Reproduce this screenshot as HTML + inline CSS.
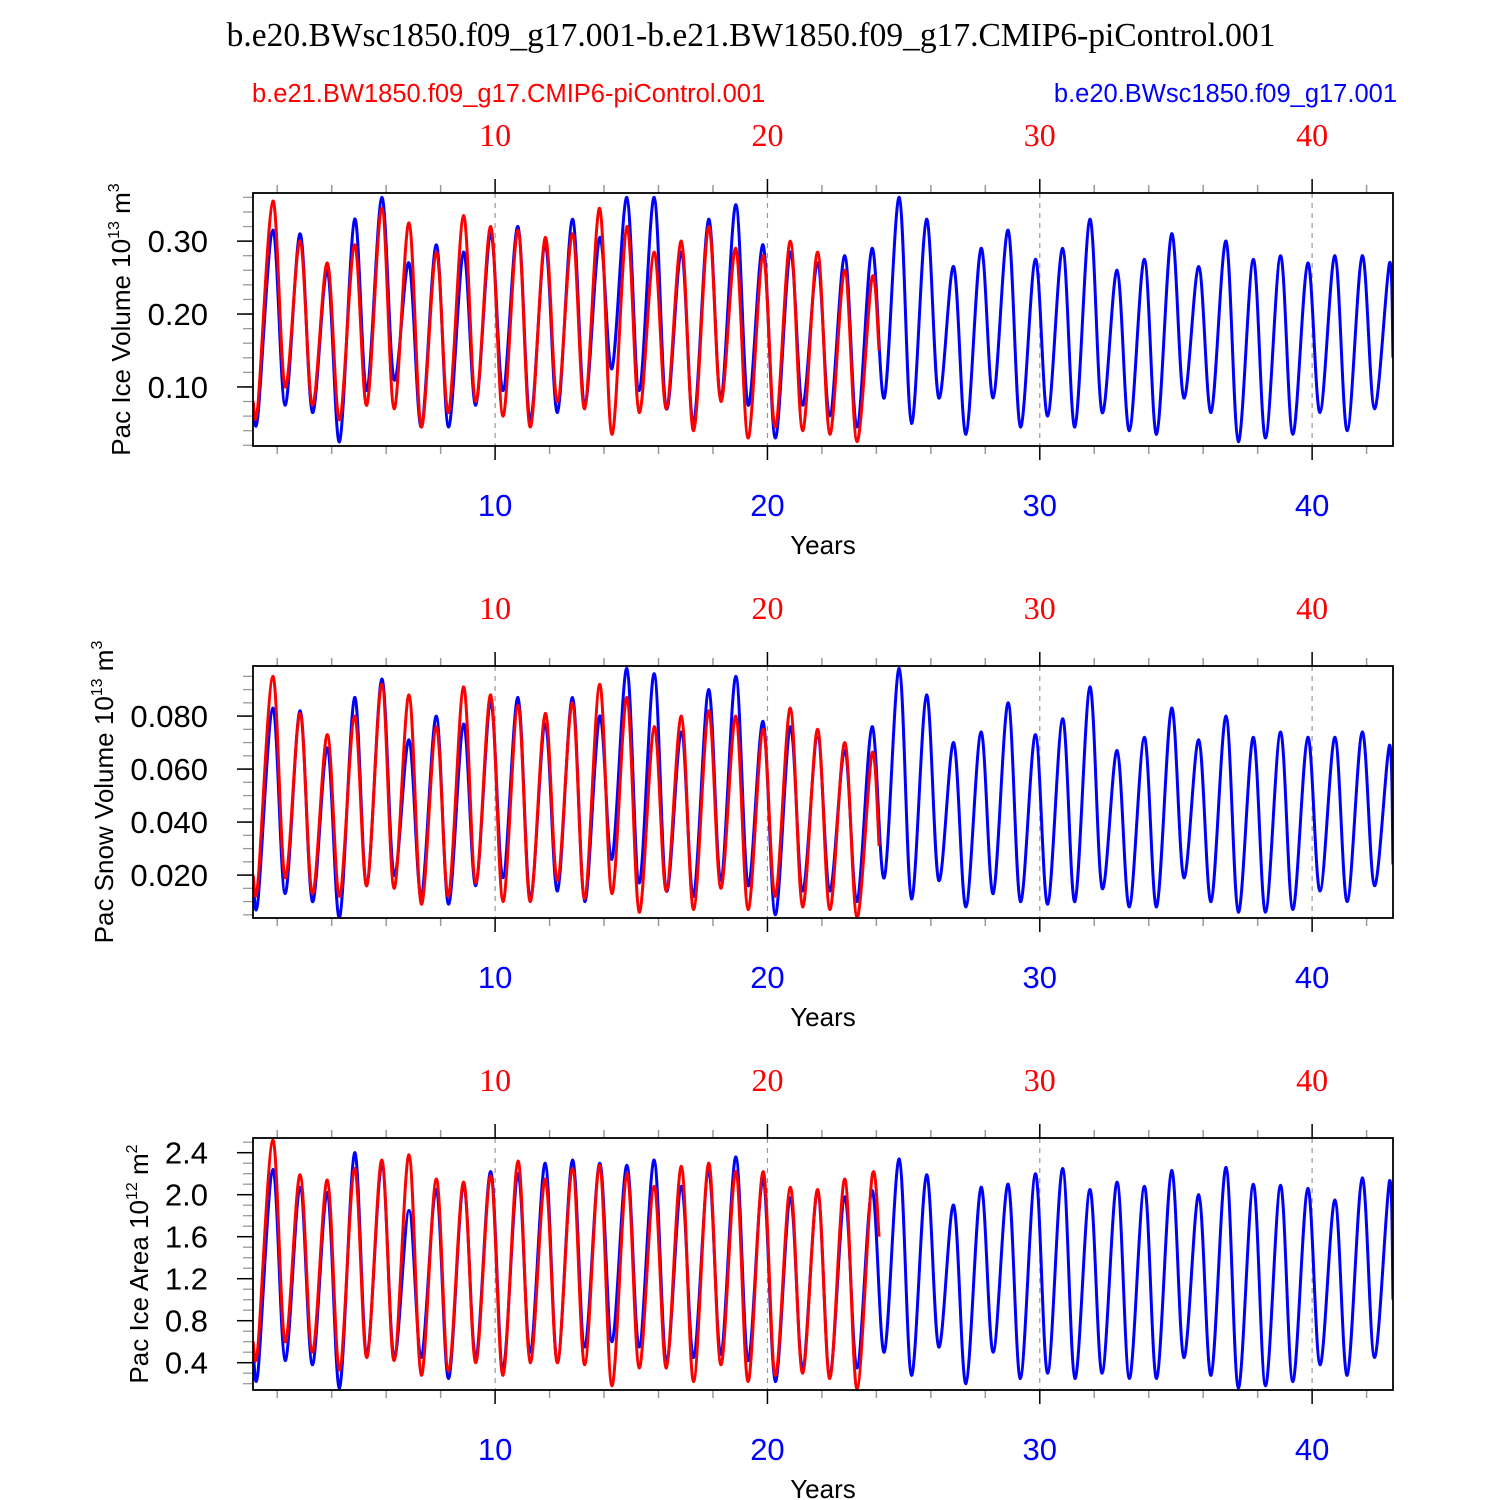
<!DOCTYPE html>
<html><head><meta charset="utf-8"><style>
html,body{margin:0;padding:0;background:#fff}
svg{display:block}
</style></head><body>
<svg id="chart" width="1500" height="1500" xmlns="http://www.w3.org/2000/svg"></svg>
<script>
// ---- data ----
const tickYears = [10, 20, 30, 40];
const redLegend = "b.e21.BW1850.f09_g17.CMIP6-piControl.001";
const blueLegend = "b.e20.BWsc1850.f09_g17.001";

const iceBluePeak = [0.315,0.31,0.26,0.33,0.36,0.27,0.295,0.285,0.31,0.32,0.295,0.33,0.305,0.36,0.36,0.285,0.33,0.35,0.295,0.285,0.27,0.28,0.29,0.36,0.33,0.265,0.29,0.315,0.275,0.29,0.33,0.26,0.275,0.31,0.265,0.30,0.275,0.28,0.27,0.28,0.28,0.27];
const iceBlueTrough = [0.06,0.075,0.065,0.025,0.095,0.11,0.045,0.045,0.075,0.095,0.055,0.065,0.075,0.125,0.095,0.07,0.05,0.085,0.075,0.03,0.075,0.06,0.045,0.085,0.05,0.085,0.035,0.085,0.045,0.06,0.045,0.065,0.04,0.035,0.085,0.065,0.025,0.03,0.035,0.065,0.04,0.07];
const iceRedPeak = [0.355,0.30,0.27,0.295,0.345,0.325,0.285,0.335,0.32,0.315,0.305,0.31,0.345,0.32,0.285,0.30,0.32,0.29,0.28,0.30,0.285,0.26,0.25];
const iceRedTrough = [0.075,0.10,0.075,0.055,0.075,0.07,0.045,0.065,0.08,0.06,0.045,0.08,0.07,0.035,0.065,0.07,0.04,0.08,0.03,0.045,0.04,0.035,0.025];

const snowBluePeak = [0.083,0.082,0.068,0.087,0.094,0.071,0.080,0.077,0.085,0.087,0.077,0.087,0.080,0.098,0.096,0.074,0.090,0.095,0.078,0.076,0.072,0.067,0.076,0.098,0.088,0.070,0.074,0.085,0.073,0.079,0.091,0.067,0.072,0.083,0.071,0.080,0.072,0.074,0.072,0.072,0.074,0.069];
const snowBlueTrough = [0.010,0.013,0.010,0.004,0.016,0.020,0.012,0.009,0.016,0.019,0.011,0.014,0.010,0.026,0.017,0.014,0.012,0.018,0.016,0.005,0.014,0.014,0.010,0.019,0.011,0.018,0.008,0.013,0.010,0.009,0.010,0.015,0.008,0.008,0.019,0.010,0.006,0.006,0.007,0.014,0.010,0.016];
const snowRedPeak = [0.095,0.081,0.073,0.080,0.092,0.088,0.076,0.091,0.088,0.084,0.081,0.085,0.092,0.087,0.076,0.080,0.082,0.080,0.075,0.083,0.075,0.070,0.066];
const snowRedTrough = [0.017,0.019,0.013,0.012,0.016,0.015,0.009,0.012,0.017,0.010,0.010,0.018,0.011,0.013,0.006,0.014,0.007,0.015,0.007,0.012,0.008,0.007,0.004];

const areaBluePeak = [2.24,2.07,2.02,2.40,2.28,1.85,2.05,2.10,2.22,2.20,2.30,2.33,2.30,2.28,2.33,2.08,2.22,2.36,2.15,1.97,2.03,1.98,2.04,2.34,2.19,1.90,2.07,2.10,2.20,2.25,2.05,2.12,2.08,2.23,2.00,2.26,2.10,2.09,2.06,1.95,2.16,2.13];
const areaBlueTrough = [0.30,0.42,0.38,0.16,0.48,0.45,0.45,0.25,0.45,0.35,0.50,0.40,0.55,0.60,0.55,0.40,0.45,0.48,0.42,0.22,0.35,0.28,0.35,0.50,0.28,0.55,0.20,0.50,0.25,0.30,0.25,0.30,0.25,0.25,0.45,0.28,0.16,0.18,0.22,0.38,0.28,0.45];
const areaRedPeak = [2.52,2.19,2.14,2.25,2.33,2.38,2.15,2.12,2.18,2.32,2.15,2.25,2.28,2.20,2.08,2.27,2.30,2.22,2.22,2.07,2.05,2.15,2.17];
const areaRedTrough = [0.55,0.60,0.50,0.33,0.45,0.42,0.28,0.32,0.40,0.28,0.40,0.40,0.38,0.18,0.35,0.35,0.22,0.38,0.22,0.28,0.30,0.25,0.15];

const startVals = {ice:[0.08,0.08], snow:[0.020,0.020], area:[0.6,0.6]};
const endVals = {ice:[0.14,0.15], snow:[0.024,0.031], area:[1.0,1.6]};

const ns = "http://www.w3.org/2000/svg";
const svg = document.getElementById('chart');
function el(tag, attrs, parent){const e=document.createElementNS(ns,tag);for(const k in attrs)e.setAttribute(k,attrs[k]);(parent||svg).appendChild(e);return e;}

const X0=253, X1=1393, YR0=1.11, YR1=42.97;
function xs(t){return X0+(t-YR0)/(YR1-YR0)*(X1-X0);}

let t=el('text',{x:751,y:46,'text-anchor':'middle','font-family':'Liberation Serif, serif','font-size':33.5,fill:'#000'});
t.textContent="b.e20.BWsc1850.f09_g17.001-b.e21.BW1850.f09_g17.CMIP6-piControl.001";

t=el('text',{x:252,y:102,'font-family':'Liberation Sans, sans-serif','font-size':25.5,fill:'#f00'});
t.textContent=redLegend;

t=el('text',{x:1397,y:102,'text-anchor':'end','font-family':'Liberation Sans, sans-serif','font-size':25.5,fill:'#00f'});
t.textContent=blueLegend;


function smoothPath(pts){
  let d='M'+pts[0][0].toFixed(1)+','+pts[0][1].toFixed(1);
  for(let i=0;i<pts.length-1;i++){
    const p0=pts[Math.max(0,i-1)],p1=pts[i],p2=pts[i+1],p3=pts[Math.min(pts.length-1,i+2)];
    const c1x=p1[0]+(p2[0]-p0[0])/6,c1y=p1[1]+(p2[1]-p0[1])/6;
    const c2x=p2[0]-(p3[0]-p1[0])/6,c2y=p2[1]-(p3[1]-p1[1])/6;
    d+=' C'+c1x.toFixed(1)+','+c1y.toFixed(1)+' '+c2x.toFixed(1)+','+c2y.toFixed(1)+' '+p2[0].toFixed(1)+','+p2[1].toFixed(1);
  }
  return d;
}

function panel(cfg){
  const g=el('g',{});
  
  
  const top=cfg.top,bot=cfg.bot;
  const ys=v=>bot-(v-cfg.ymin)/(cfg.ymax-cfg.ymin)*(bot-top);
  tickYears.forEach(yr=>{const l=el('line',{x1:xs(yr),x2:xs(yr),y1:top,y2:bot,stroke:'#999','stroke-width':1.2,'stroke-dasharray':'5,5'},g);
    });
  for(let yr=2;yr<=42;yr+=2){
    const major=yr%10===0;
    el('line',{x1:xs(yr),x2:xs(yr),y1:top,y2:top-(major?14:8),stroke:major?'#000':'#999','stroke-width':1.5},g);
    el('line',{x1:xs(yr),x2:xs(yr),y1:bot,y2:bot+(major?14:8),stroke:major?'#000':'#999','stroke-width':1.5},g);
  }
  for(let v=cfg.minorStart;v<=cfg.ymax+1e-9;v+=cfg.minorStep){
    if(v<cfg.ymin)continue;
    el('line',{x1:X0,x2:X0-10,y1:ys(v),y2:ys(v),stroke:'#999','stroke-width':1.3},g);
  }
  cfg.majors.forEach(v=>{
    el('line',{x1:X0,x2:X0-16,y1:ys(v),y2:ys(v),stroke:'#000','stroke-width':1.5},g);
    const tl=el('text',{x:X0-45,y:ys(v)+11,'text-anchor':'end','font-family':'Liberation Sans, sans-serif','font-size':31,fill:'#000'},g);
    tl.textContent=v.toFixed(cfg.dec);
    
  });
  tickYears.forEach(yr=>{
    const a=el('text',{x:xs(yr),y:top-47,'text-anchor':'middle','font-family':'Liberation Serif, serif','font-size':32,fill:'#f00'},g);
    a.textContent=yr;
    const b=el('text',{x:xs(yr),y:bot+70,'text-anchor':'middle','font-family':'Liberation Sans, sans-serif','font-size':31,fill:'#00f'},g);
    b.textContent=yr;
  });
  const xl=el('text',{x:823,y:bot+108,'text-anchor':'middle','font-family':'Liberation Sans, sans-serif','font-size':26,fill:'#000'},g);
  xl.textContent='Years';
  const yt=el('text',{transform:'translate('+cfg.ytx+','+((top+bot)/2)+') rotate(-90)','text-anchor':'middle','font-family':'Liberation Sans, sans-serif','font-size':26,fill:'#000'},g);
  
  const s1=document.createElementNS(ns,'tspan');s1.textContent=cfg.ylab+' 10';yt.appendChild(s1);
  const s2=document.createElementNS(ns,'tspan');s2.setAttribute('dy','-11');s2.setAttribute('font-size','16');s2.textContent=cfg.exp;yt.appendChild(s2);
  const s3=document.createElementNS(ns,'tspan');s3.setAttribute('dy','11');s3.textContent=' m';yt.appendChild(s3);
  const s4=document.createElementNS(ns,'tspan');s4.setAttribute('dy','-11');s4.setAttribute('font-size','16');s4.textContent=cfg.unit;yt.appendChild(s4);
  const clipId='clip'+cfg.name;
  const cp=el('clipPath',{id:clipId},g);el('rect',{x:X0,y:top-3,width:X1-X0,height:bot-top+3},cp);
  function series(peaks,troughs,start,end,endYear,color,nm){
    const pts=[[xs(YR0),ys(start)]];
    for(let i=0;i<troughs.length;i++){
      pts.push([xs(i+1.29),ys(troughs[i])]);
      if(i<peaks.length)pts.push([xs(i+1.84),ys(peaks[i])]);
    }
    pts.push([xs(endYear),ys(end)]);
    const p=el('path',{d:smoothPath(pts),fill:'none',stroke:color,'stroke-width':3,'stroke-linejoin':'round','clip-path':'url(#'+clipId+')'},g);
    
  }
  series(cfg.bp,cfg.bt,cfg.sv[0],cfg.ev[0],YR1,'#00f','series-blue');
  series(cfg.rp,cfg.rt,cfg.sv[1],cfg.ev[1],24.1,'#f00','series-red');
  const fr=el('rect',{x:X0,y:top,width:X1-X0,height:bot-top,fill:'none',stroke:'#000','stroke-width':1.8},g);
  
}

panel({name:'ice-volume-panel',top:193,bot:446,ymin:0.019,ymax:0.366,majors:[0.10,0.20,0.30],minorStart:0.02,minorStep:0.02,dec:2,
  ylab:'Pac Ice Volume',exp:'13',unit:'3',ytx:130,bp:iceBluePeak,bt:iceBlueTrough,rp:iceRedPeak,rt:iceRedTrough,sv:startVals.ice,ev:endVals.ice});
panel({name:'snow-volume-panel',top:666,bot:918,ymin:0.0038,ymax:0.0989,majors:[0.020,0.040,0.060,0.080],minorStart:0.005,minorStep:0.005,dec:3,
  ylab:'Pac Snow Volume',exp:'13',unit:'3',ytx:113,bp:snowBluePeak,bt:snowBlueTrough,rp:snowRedPeak,rt:snowRedTrough,sv:startVals.snow,ev:endVals.snow});
panel({name:'ice-area-panel',top:1138,bot:1390,ymin:0.14,ymax:2.54,majors:[0.4,0.8,1.2,1.6,2.0,2.4],minorStart:0.2,minorStep:0.1,dec:1,
  ylab:'Pac Ice Area',exp:'12',unit:'2',ytx:148,bp:areaBluePeak,bt:areaBlueTrough,rp:areaRedPeak,rt:areaRedTrough,sv:startVals.area,ev:endVals.area});
</script>
</body></html>
